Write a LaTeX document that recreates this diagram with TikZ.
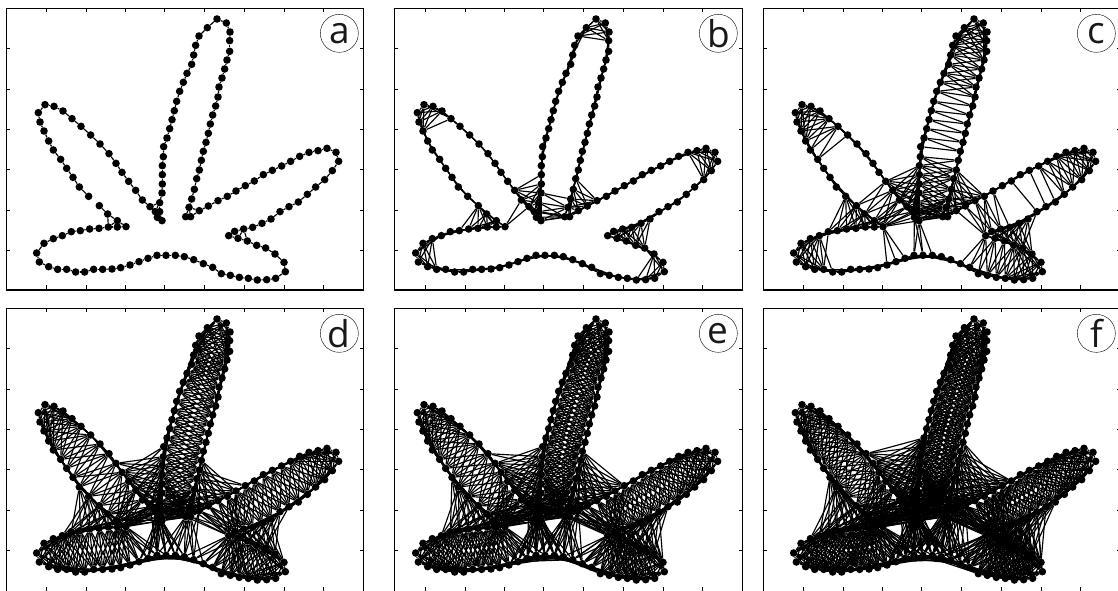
\documentclass[tikz,border=0pt]{standalone}
\usepackage{fontspec}
\setmainfont{Open Sans}
\usepackage{tikz}

\def\ptlist{651/57,679/69,690/96,689/122,689/154,681/180,674/207,666/234,657/261,654/291,
647/318,638/345,631/372,625/400,618/427,610/454,604/481,598/510,590/536,583/568,
575/597,567/622,557/650,572/650,598/632,625/618,654/602,682/589,708/573,736/557,
763/543,790/524,817/511,845/498,872/484,899/469,927/457,954/452,981/445,1008/457,
1016/484,997/512,974/539,947/561,922/583,895/606,867/620,840/635,813/657,786/670,
758/682,731/687,704/694,686/707,714/715,742/723,770/736,797/744,825/762,852/787,
856/815,827/835,800/839,772/840,745/835,718/832,691/826,664/821,638/802,610/791,
581/779,553/770,526/766,498/766,471/766,444/775,417/785,390/795,362/803,336/807,
308/808,281/808,254/816,227/816,200/808,173/808,146/800,118/786,110/759,132/730,
160/716,187/707,214/695,241/692,269/687,297/685,325/681,352/681,378/680,352/662,
323/642,298/617,266/589,238/561,219/532,200/505,182/478,160/450,146/423,132/393,
120/366,115/338,135/314,162/319,189/333,216/356,243/379,272/405,300/432,327/461,
348/490,366/517,386/544,407/571,427/600,450/620,466/635,472/652,486/662,479/635,
479/608,486/579,487/552,487/524,487/497,490/470,491/440,501/414,509/386,516/359,
523/332,530/304,539/274,550/247,561/220,575/193,581/165,587/136,597/108,622/83}

\begin{document}
\begin{tikzpicture}[x=0.33333pt, y=-0.33333pt,
  dot/.style={circle, fill=black, inner sep=0pt, minimum size=7.6pt},
  link/.style={line width=1.15pt},
  frame/.style={line width=1.1pt},
  tick/.style={line width=0.5pt},
  tag/.style={draw, circle, line width=0.4pt, inner sep=0pt, minimum size=38pt,
              text=black!90, font=\fontsize{37}{37}\selectfont}]
\path[use as bounding box, clip] (0,0) rectangle (3354,1770);

\foreach \x/\y [count=\n] in \ptlist {
  \expandafter\xdef\csname ptx\n\endcsname{\x}
  \expandafter\xdef\csname pty\n\endcsname{\y}
  \xdef\npts{\n}
}
\xdef\pairlist{0/0/99999999}
\foreach \i in {1,...,\npts} {
  \foreach \j in {\i,...,\npts} {
    \edef\dsq{\the\numexpr (\csname ptx\i\endcsname-\csname ptx\j\endcsname)*(\csname ptx\i\endcsname-\csname ptx\j\endcsname)
      +(\csname pty\i\endcsname-\csname pty\j\endcsname)*(\csname pty\i\endcsname-\csname pty\j\endcsname)\relax}
    \ifnum\dsq>0 \ifnum\dsq<34300
      \xdef\pairlist{\pairlist,\i/\j/\dsq}
    \fi\fi
  }
}

\foreach \pname/\sx/\sy/\lft/\bot/\rad in {a/0/0/20/870/40, b/1137/0/46/870/95, c/2271/0/20/870/120,
                                           d/0/900/20/876/148, e/1137/900/46/876/165, f/2271/900/20/876/185} {
  \begin{scope}[shift={(\sx,\sy)}]
    \draw[frame] (\lft,25) rectangle (1090,\bot);
    \foreach \tx in {138,258,375,493,612,733,852,970} {
      \draw[tick] (\tx,25) -- (\tx,36);
      \draw[tick] (\tx,\bot) -- (\tx,\numexpr\bot-14\relax);
    }
    \foreach \ty in {146,267,388,509,630,751} {
      \draw[tick] (\lft,\ty) -- ++(11,0);
      \draw[tick] (1090,\ty) -- ++(-11,0);
    }
    \foreach \x/\y [count=\n] in \ptlist {
      \node[dot] (\pname-\n) at (\x,\y) {};
    }
    \foreach \i/\j/\dsq in \pairlist {
      \ifnum\dsq<\numexpr\rad*\rad\relax
        \draw[link] (\pname-\i) -- (\pname-\j);
      \fi
    }
    \node[tag] (\pname-tag) at (1018,100) {\pname};
  \end{scope}
}
\end{tikzpicture}
\end{document}
